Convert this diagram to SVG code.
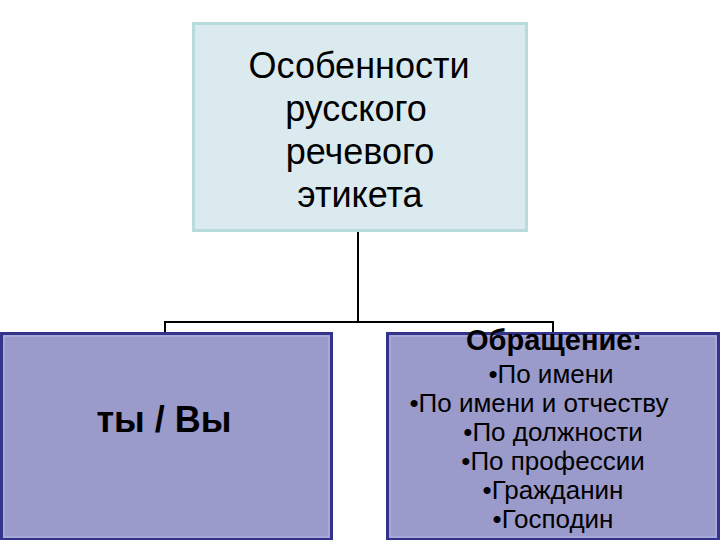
<svg xmlns="http://www.w3.org/2000/svg" width="720" height="540" viewBox="0 0 720 540">
<style>
.t{font-family:"Liberation Sans",Arial,sans-serif;fill:#000;text-anchor:middle}
.top{font-size:36px}
.item{font-size:26px}
.b{font-weight:bold}
.blue{fill:#9a9acb;stroke:#33338a;stroke-width:3}
.inner{fill:none;stroke:#b4b4e6;stroke-width:1}
</style>
<rect width="720" height="540" fill="#fff"/>
<g id="connectors" fill="none" stroke="#000" stroke-width="2">
<path d="M358 232V322M165 333V322H553V333"/>
</g>
<g id="root">
<rect x="193.5" y="23.5" width="333" height="207" fill="#daeaee" stroke="#b8dcdc" stroke-width="3"/>
<text class="t top" x="359" y="78">Особенности</text>
<text class="t top" x="356" y="121">русского</text>
<text class="t top" x="360" y="164">речевого</text>
<text class="t top" x="360" y="207">этикета</text>
</g>
<g id="left">
<rect class="blue" x="1.5" y="333.5" width="330" height="206"/>
<rect class="inner" x="4" y="336" width="325" height="201"/>
<text class="t b" x="164" y="432" font-size="36">ты / Вы</text>
</g>
<g id="right">
<rect class="blue" x="387.5" y="333.5" width="331" height="206"/>
<rect class="inner" x="390" y="336" width="326" height="201"/>
<text class="t b" x="554" y="350" font-size="29">Обращение:</text>
<text class="t item" x="551" y="383">•По имени</text>
<text class="t item" x="539" y="412">•По имени и отчеству</text>
<text class="t item" x="553" y="441">•По должности</text>
<text class="t item" x="553" y="470">•По профессии</text>
<text class="t item" x="553" y="499">•Гражданин</text>
<text class="t item" x="553" y="528">•Господин</text>
</g>
</svg>
